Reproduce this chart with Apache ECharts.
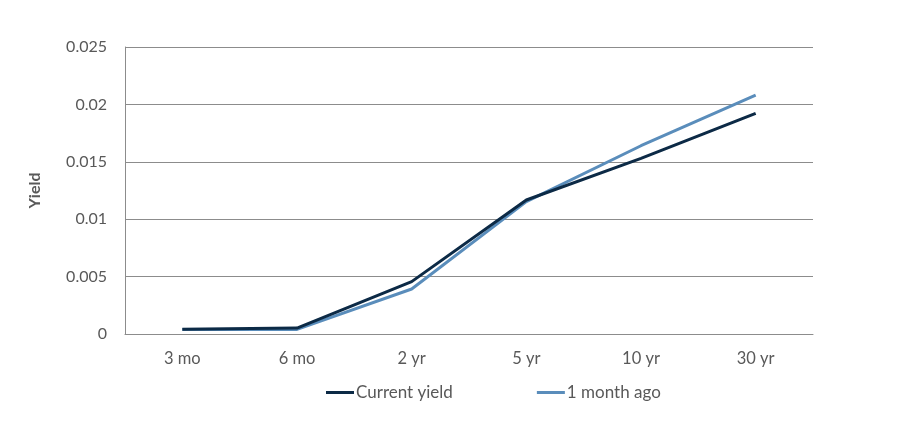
<!DOCTYPE html>
<html>
<head>
<meta charset="utf-8">
<script src="https://cdn.jsdelivr.net/npm/echarts@6/dist/echarts.min.js"></script>
<style>
  html, body { margin: 0; padding: 0; background: #fff; }
  #chart { width: 903px; height: 426px; }
</style>
</head>
<body>
<div id="chart"></div>
<script>
// yield curve data
const categories = ['3 mo', '6 mo', '2 yr', '5 yr', '10 yr', '30 yr'];
const currentYield = [0.00041, 0.00052, 0.00456, 0.01167, 0.0153, 0.01922];
const monthAgo = [0.0004, 0.0004, 0.00392, 0.01153, 0.0164, 0.0208];
const yTicks = [0, 0.005, 0.01, 0.015, 0.02, 0.025];

const font = 'Lato, "Open Sans", sans-serif';
const chart = echarts.init(document.getElementById('chart'), null, { renderer: 'canvas' });

const option = {
    animation: false,
    textStyle: { fontFamily: font },
    legend: {
        top: 379,
        left: 321,
        itemGap: 84,
        itemWidth: 28,
        itemHeight: 3,
        icon: 'rect',
        textStyle: { fontSize: 17, color: '#595959', fontFamily: font, padding: [0, 0, 0, -3] },
        data: ['Current yield', '1 month ago']
    },
    grid: {
        left: 125,
        right: 90,
        top: 47,
        bottom: 92
    },
    xAxis: {
        type: 'category',
        data: categories,
        boundaryGap: true,
        axisLine: { lineStyle: { color: '#8c8c8c', width: 1 } },
        axisTick: { show: false },
        axisLabel: { color: '#595959', fontSize: 16.5, margin: 16, fontFamily: font }
    },
    yAxis: {
        type: 'value',
        min: 0,
        max: 0.025,
        interval: 0.005,
        name: 'Yield',
        nameLocation: 'middle',
        nameGap: 82,
        nameRotate: 90,
        nameTextStyle: { color: '#595959', fontSize: 16, fontWeight: 'bold', fontFamily: font },
        axisLine: { show: true, lineStyle: { color: '#8c8c8c', width: 1 } },
        axisTick: { show: false },
        splitLine: { lineStyle: { color: '#8c8c8c', width: 1 } },
        axisLabel: {
            color: '#595959',
            fontSize: 16,
            margin: 18,
            fontFamily: font,
            formatter: v => {
                const t = yTicks.find(x => Math.abs(x - v) < 1e-9);
                return String(t !== undefined ? t : v);
            }
        }
    },
    series: [
        {
            name: 'Current yield',
            type: 'line',
            data: currentYield,
            symbol: 'none',
            lineStyle: { color: '#0c2a46', width: 3 },
            itemStyle: { color: '#0c2a46' },
            z: 3
        },
        {
            name: '1 month ago',
            type: 'line',
            data: monthAgo,
            symbol: 'none',
            lineStyle: { color: '#5a8dbb', width: 3 },
            itemStyle: { color: '#5a8dbb' },
            z: 2
        }
    ]
};

chart.setOption(option);
</script>
</body>
</html>
